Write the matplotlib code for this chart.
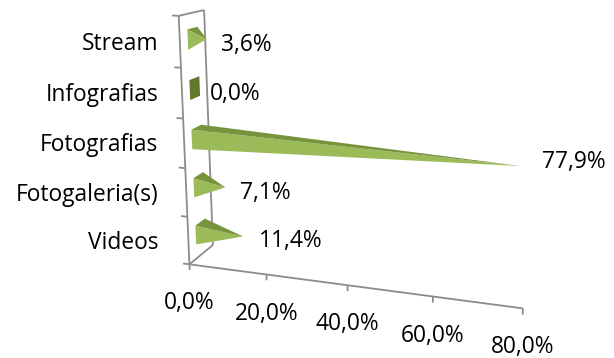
import numpy as np
import matplotlib
matplotlib.use("Agg")
import matplotlib.pyplot as plt
from matplotlib.patches import Polygon

# ---------------- data ----------------
categories = ["Videos", "Fotogaleria(s)", "Fotografias", "Infografias", "Stream"]
values = [11.4, 7.1, 77.9, 0.0, 3.6]          # percent
value_labels = ["11,4%", "7,1%", "77,9%", "0,0%", "3,6%"]
x_ticks = [0, 20, 40, 60, 80]
x_tick_labels = ["0,0%", "20,0%", "40,0%", "60,0%", "80,0%"]

# ---------------- layout / style ----------------
W_PX, H_PX = 614, 358
FONT = "Open Sans"
FSIZE = 16.4
AXIS_COLOR = "#8c8c8c"
FRONT_COLOR = "#9bbb59"
TOP_COLOR = "#77933c"
BASE_COLOR = "#5f7a2e"
BAR_HALF = 0.2          # half bar thickness (category units)
Z0, Z1 = 0.3, 0.7       # bar depth span
XS = 20.0               # value scale for the 3D camera fit
label_dx = [16, 15, 22, 10, 14]       # data-label offsets from bar tip (px)
label_dy = [4, 6, -4, 6, 6]
CAT_LABEL_X = 158
CAT_LABEL_DY = 2

# 3D frame of the chart (X value %, Y category slot, Z depth) and its canvas position
frame_world = [(0, 0, 0), (20, 0, 0), (40, 0, 0), (60, 0, 0), (80, 0, 0),
               (0, 1, 0), (0, 2, 0), (0, 3, 0), (0, 4, 0),
               (0, 5, 0), (0, 5, 1), (0, 0, 1)]
frame_px = [(190, 264), (267, 275), (347, 285), (433, 297), (523, 308),
            (187.7, 217), (185.4, 168), (183, 118), (180.6, 68),
            (178, 16), (205, 10), (212, 245)]


def fit_camera(world, px):
    Wp = np.array([(x / XS, y, z) for x, y, z in world], float)
    Ip = np.array(px, float)
    mw = Wp.mean(0); s3 = np.sqrt(3) / np.mean(np.linalg.norm(Wp - mw, axis=1))
    mi = Ip.mean(0); s2 = np.sqrt(2) / np.mean(np.linalg.norm(Ip - mi, axis=1))
    U = np.eye(4); U[:3, :3] *= s3; U[:3, 3] = -s3 * mw
    T = np.eye(3); T[:2, :2] *= s2; T[:2, 2] = -s2 * mi
    rows = []
    for (X, Y, Z), (u, v) in zip((Wp - mw) * s3, (Ip - mi) * s2):
        rows.append([X, Y, Z, 1, 0, 0, 0, 0, -u * X, -u * Y, -u * Z, -u])
        rows.append([0, 0, 0, 0, X, Y, Z, 1, -v * X, -v * Y, -v * Z, -v])
    _, _, vt = np.linalg.svd(np.array(rows))
    Pn = vt[-1].reshape(3, 4)
    return np.linalg.inv(T) @ Pn @ U


P = fit_camera(frame_world, frame_px)


def proj(x, y, z):
    w = P @ np.array([x / XS, y, z, 1.0])
    return w[0] / w[2], w[1] / w[2]


fig = plt.figure(figsize=(W_PX / 100, H_PX / 100), dpi=100)
ax = fig.add_axes([0, 0, 1, 1])
ax.set_xlim(0, W_PX)
ax.set_ylim(H_PX, 0)
ax.axis("off")

n = len(categories)
lw = 1.3


def line3d(p, q, **kw):
    a = proj(*p); b = proj(*q)
    ax.plot([a[0], b[0]], [a[1], b[1]], color=AXIS_COLOR, lw=lw,
            solid_capstyle="butt", **kw)


# side wall outline
line3d((0, 0, 0), (0, n, 0))
line3d((0, 0, 1), (0, n, 1))
line3d((0, n, 0), (0, n, 1))
line3d((0, 0, 0), (0, 0, 1))
# value (floor) axis
line3d((0, 0, 0), (x_ticks[-1], 0, 0))
for t in x_ticks:
    line3d((t, 0, 0), (t, -0.12, 0))
# category ticks
for k in range(n + 1):
    line3d((-1.7, k, 0), (0, k, 0))

# pyramids
for i, v in enumerate(values):
    c = i + 0.5
    y0, y1 = c - BAR_HALF, c + BAR_HALF
    b00 = proj(0, y0, Z0); b10 = proj(0, y1, Z0)
    b11 = proj(0, y1, Z1); b01 = proj(0, y0, Z1)
    if v <= 0:
        ax.add_patch(Polygon([b00, b10, b11, b01], closed=True,
                             facecolor=BASE_COLOR, edgecolor="none", zorder=3))
        tip_x = max(b11[0], b01[0])
        tip_y = proj(0, c, 0.5)[1]
    else:
        apex = proj(v, c, 0.5)
        ax.add_patch(Polygon([b00, b10, apex], closed=True,
                             facecolor=FRONT_COLOR, edgecolor="none", zorder=3))
        ax.add_patch(Polygon([b10, b11, apex], closed=True,
                             facecolor=TOP_COLOR, edgecolor="none", zorder=3))
        tip_x, tip_y = apex
    ax.text(tip_x + label_dx[i], tip_y + label_dy[i], value_labels[i],
            ha="left", va="center", fontsize=FSIZE, family=FONT,
            color="black", zorder=5)

# category labels
for i, name in enumerate(categories):
    yy = proj(0, i + 0.5, 0)[1] + CAT_LABEL_DY
    ax.text(CAT_LABEL_X, yy, name, ha="right", va="center", fontsize=FSIZE,
            family=FONT, color="black")

# value tick labels
for t, lab in zip(x_ticks, x_tick_labels):
    px, py = proj(t, 0, 0)
    ax.text(px, py + 39, lab, ha="center", va="center", fontsize=FSIZE,
            family=FONT, color="black")

fig.savefig("out.png", dpi=100, facecolor="white")
